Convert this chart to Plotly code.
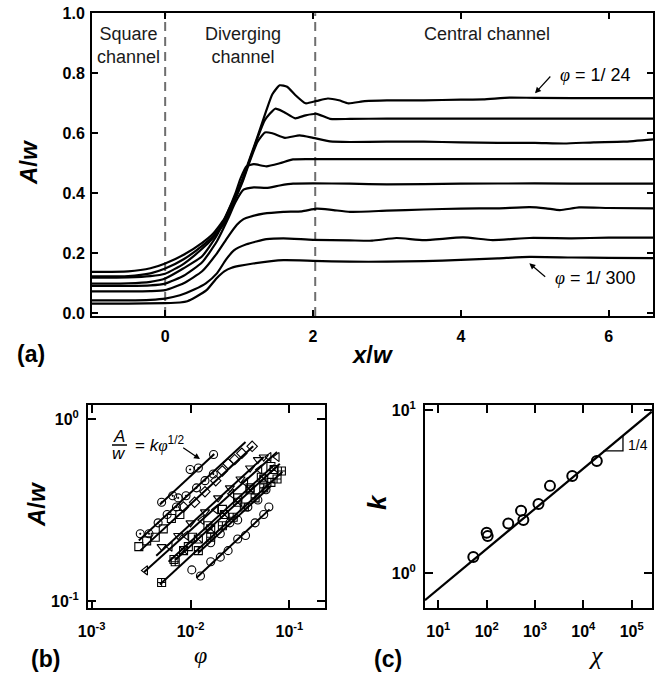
import plotly.graph_objects as go

W, H = 665, 679
FONT = "Liberation Sans, Arial, sans-serif"

# ---------------- panel (a) data ----------------
c1_x = [-1, -0.5, -0.2, 0, 0.25, 0.5, 0.65, 0.8, 0.92, 1.05, 1.15, 1.25, 1.37, 1.45, 1.55, 1.65, 1.75, 1.9, 2.05, 2.2, 2.35, 2.48, 2.7, 3.0, 3.5, 4.0, 4.3, 4.66, 5.0, 6.0, 6.6]
c1_y = [0.138, 0.140, 0.150, 0.166, 0.195, 0.235, 0.266, 0.315, 0.376, 0.45, 0.52, 0.59, 0.677, 0.73, 0.76, 0.755, 0.73, 0.70, 0.708, 0.716, 0.71, 0.70, 0.707, 0.71, 0.71, 0.712, 0.713, 0.719, 0.718, 0.717, 0.717]
c2_x = [-1, -0.5, -0.2, 0, 0.25, 0.5, 0.65, 0.8, 0.92, 1.05, 1.15, 1.25, 1.35, 1.49, 1.6, 1.76, 1.9, 2.05, 2.23, 2.5, 3, 4, 5, 6, 6.6]
c2_y = [0.123, 0.124, 0.133, 0.149, 0.18, 0.225, 0.258, 0.307, 0.37, 0.445, 0.515, 0.585, 0.645, 0.682, 0.672, 0.65, 0.66, 0.665, 0.648, 0.648, 0.649, 0.649, 0.649, 0.649, 0.649]
c3_x = [-1, -0.5, -0.2, 0, 0.25, 0.5, 0.65, 0.8, 0.92, 1.05, 1.15, 1.25, 1.35, 1.45, 1.62, 1.82, 2.0, 2.23, 2.5, 3, 3.5, 4, 4.5, 5.0, 5.4, 5.8, 6.2, 6.6]
c3_y = [0.119, 0.12, 0.124, 0.132, 0.165, 0.215, 0.252, 0.30, 0.365, 0.44, 0.51, 0.572, 0.603, 0.60, 0.585, 0.593, 0.585, 0.573, 0.571, 0.572, 0.572, 0.57, 0.568, 0.568, 0.566, 0.57, 0.572, 0.58]
c4_x = [-1, -0.5, -0.2, 0, 0.25, 0.5, 0.7, 0.85, 0.95, 1.02, 1.1, 1.2, 1.37, 1.55, 1.73, 2.0, 3, 4, 5, 6, 6.6]
c4_y = [0.099, 0.1, 0.105, 0.116, 0.15, 0.19, 0.26, 0.34, 0.40, 0.45, 0.49, 0.497, 0.49, 0.5, 0.513, 0.514, 0.514, 0.514, 0.514, 0.514, 0.514]
c5_x = [-1, -0.5, -0.2, 0, 0.25, 0.5, 0.7, 0.85, 0.95, 1.06, 1.2, 1.37, 1.55, 1.73, 2.0, 2.5, 3, 4, 5, 6, 6.6]
c5_y = [0.091, 0.091, 0.093, 0.099, 0.125, 0.17, 0.24, 0.315, 0.37, 0.412, 0.42, 0.418, 0.426, 0.432, 0.433, 0.432, 0.43, 0.432, 0.433, 0.432, 0.432]
c6_x = [-1, -0.5, -0.2, 0, 0.25, 0.5, 0.7, 0.85, 0.97, 1.06, 1.15, 1.33, 1.6, 1.85, 2.05, 2.25, 2.5, 3, 3.5, 4, 4.5, 4.93, 5.15, 5.34, 5.6, 6, 6.6]
c6_y = [0.073, 0.073, 0.074, 0.077, 0.1, 0.14, 0.2, 0.255, 0.295, 0.314, 0.322, 0.332, 0.338, 0.34, 0.349, 0.345, 0.338, 0.342, 0.346, 0.349, 0.35, 0.354, 0.35, 0.344, 0.353, 0.351, 0.35]
c7_x = [-1, -0.5, -0.2, 0, 0.2, 0.4, 0.55, 0.7, 0.82, 0.93, 1.1, 1.37, 1.6, 2.0, 2.5, 2.8, 3.13, 3.5, 4.03, 4.43, 4.93, 5.5, 6, 6.6]
c7_y = [0.043, 0.043, 0.045, 0.049, 0.06, 0.08, 0.1, 0.133, 0.178, 0.21, 0.23, 0.247, 0.25, 0.245, 0.243, 0.242, 0.251, 0.244, 0.253, 0.244, 0.251, 0.25, 0.252, 0.252]
c8_x = [-1, -0.5, 0, 0.2, 0.3, 0.42, 0.56, 0.7, 0.8, 0.9, 1.0, 1.19, 1.6, 2.0, 2.5, 3.0, 3.5, 4.0, 4.5, 4.93, 5.5, 6, 6.6]
c8_y = [0.032, 0.032, 0.034, 0.036, 0.04, 0.055, 0.077, 0.118, 0.14, 0.152, 0.158, 0.166, 0.177, 0.175, 0.172, 0.172, 0.174, 0.178, 0.183, 0.188, 0.186, 0.185, 0.184]
curves_a = [(c1_x, c1_y), (c2_x, c2_y), (c3_x, c3_y), (c4_x, c4_y),
            (c5_x, c5_y), (c6_x, c6_y), (c7_x, c7_y), (c8_x, c8_y)]
region_bounds = [0, 2.03]
xticks_a = [0, 2, 4, 6]
xtext_a = ["0", "2", "4", "6"]
yticks_a = [0.0, 0.2, 0.4, 0.6, 0.8, 1.0]
ytext_a = ["0.0", "0.2", "0.4", "0.6", "0.8", "1.0"]

# ---------------- panel (b) data ----------------
b_series = [
    dict(sym="circle-open-dot", phi=[0.0051, 0.0066, 0.0075, 0.0099, 0.012, 0.0171],
         A=[0.35, 0.38, 0.37, 0.53, 0.54, 0.64]),
    dict(sym="circle-open-dot", phi=[0.0031, 0.0038, 0.0047, 0.0058, 0.0072, 0.009, 0.0115, 0.014, 0.017],
         A=[0.235, 0.235, 0.27, 0.30, 0.33, 0.38, 0.42, 0.46, 0.50]),
    dict(sym="square-open", phi=[0.0030, 0.0036, 0.0044, 0.0053, 0.0064, 0.0078],
         A=[0.20, 0.215, 0.225, 0.25, 0.285, 0.30]),
    dict(sym="diamond-open", phi=[0.0085, 0.011, 0.014, 0.018, 0.021, 0.024, 0.028, 0.033, 0.042],
         A=[0.33, 0.35, 0.40, 0.46, 0.52, 0.57, 0.60, 0.65, 0.71]),
    dict(sym="triangle-down-open", phi=[0.0051, 0.0075, 0.01, 0.014, 0.019, 0.025, 0.032, 0.04, 0.048, 0.055],
         A=[0.20, 0.23, 0.27, 0.31, 0.37, 0.42, 0.47, 0.54, 0.60, 0.62]),
    dict(sym="triangle-left-open", phi=[0.0035, 0.0062, 0.009, 0.013, 0.018, 0.026, 0.036, 0.05, 0.062, 0.075],
         A=[0.148, 0.20, 0.23, 0.28, 0.32, 0.39, 0.45, 0.53, 0.62, 0.62]),
    dict(sym="square-open", phi=[0.0068, 0.0095, 0.0105, 0.015, 0.021, 0.03, 0.04, 0.052, 0.065],
         A=[0.17, 0.20, 0.225, 0.26, 0.32, 0.37, 0.42, 0.48, 0.55]),
    dict(sym="square-x-open", phi=[0.0085, 0.012, 0.016, 0.022, 0.03, 0.04, 0.055, 0.07],
         A=[0.19, 0.22, 0.25, 0.30, 0.35, 0.41, 0.47, 0.53]),
    dict(sym="square-cross-open", phi=[0.0051, 0.007, 0.012, 0.016, 0.021, 0.027, 0.035, 0.045, 0.055, 0.065, 0.075, 0.083],
         A=[0.127, 0.165, 0.19, 0.225, 0.26, 0.29, 0.33, 0.37, 0.42, 0.45, 0.47, 0.52]),
    dict(sym="circle-open", phi=[0.016, 0.02, 0.025, 0.03, 0.038, 0.048, 0.058],
         A=[0.21, 0.235, 0.27, 0.28, 0.33, 0.36, 0.41]),
    dict(sym="circle-open", phi=[0.0103, 0.0126, 0.016, 0.02, 0.024, 0.03, 0.036, 0.045, 0.055, 0.062],
         A=[0.149, 0.138, 0.165, 0.175, 0.19, 0.22, 0.23, 0.27, 0.30, 0.33]),
]
b_fit_phi = [[0.0049, 0.0172], [0.0030, 0.036], [0.0031, 0.043], [0.0045, 0.055], [0.0034, 0.075],
             [0.006, 0.07], [0.007, 0.08], [0.0049, 0.085], [0.012, 0.065], [0.0115, 0.063]]
b_fit_A = [[0.34, 0.64], [0.216, 0.75], [0.19, 0.71], [0.178, 0.62], [0.145, 0.66],
           [0.165, 0.56], [0.169, 0.57], [0.124, 0.515], [0.185, 0.43], [0.135, 0.32]]
xticks_b = [0.001, 0.01, 0.1]
xtext_b = ["<b>10<sup>-3</sup></b>", "<b>10<sup>-2</sup></b>", "<b>10<sup>-1</sup></b>"]
yticks_b = [0.1, 1]
ytext_b = ["<b>10<sup>-1</sup></b>", "<b>10<sup>0</sup></b>"]

# ---------------- panel (c) data ----------------
chi = [53, 100, 105, 280, 515, 575, 1180, 2040, 5900, 19000]
k_vals = [1.26, 1.77, 1.69, 2.02, 2.42, 2.12, 2.66, 3.43, 3.94, 4.87]
fit_chi = [5.3, 2.6e5]
fit_k = [0.685, 9.75]
slope_tri_chi = [2.6e4, 6.6e4, 6.6e4]
slope_tri_k = [5.61, 5.61, 7.03]
xticks_c = [10, 100, 1000, 1e4, 1e5]
xtext_c = ["<b>10<sup>1</sup></b>", "<b>10<sup>2</sup></b>", "<b>10<sup>3</sup></b>",
           "<b>10<sup>4</sup></b>", "<b>10<sup>5</sup></b>"]
yticks_c = [1, 10]
ytext_c = ["<b>10<sup>0</sup></b>", "<b>10<sup>1</sup></b>"]

# ---------------- figure ----------------
def px(x):
    return x / W

def py(y):
    return 1 - y / H

fig = go.Figure()

for cx, cy in curves_a:
    fig.add_trace(go.Scatter(x=cx, y=cy, mode="lines", xaxis="x", yaxis="y",
                             line=dict(color="black", width=2.2, shape="spline", smoothing=0.5),
                             showlegend=False, hoverinfo="skip"))

for (fp, fa) in zip(b_fit_phi, b_fit_A):
    fig.add_trace(go.Scatter(x=fp, y=fa, mode="lines", xaxis="x2", yaxis="y2",
                             line=dict(color="black", width=2), showlegend=False))
for s in b_series:
    fig.add_trace(go.Scatter(x=s["phi"], y=s["A"], mode="markers", xaxis="x2", yaxis="y2",
                             marker=dict(symbol=s["sym"], size=8, color="black",
                                         line=dict(color="black", width=1.1)),
                             showlegend=False))

fig.add_trace(go.Scatter(x=fit_chi, y=fit_k, mode="lines", xaxis="x3", yaxis="y3",
                         line=dict(color="black", width=2.2), showlegend=False))
fig.add_trace(go.Scatter(x=slope_tri_chi, y=slope_tri_k, mode="lines", xaxis="x3", yaxis="y3",
                         line=dict(color="black", width=1.3), showlegend=False))
fig.add_trace(go.Scatter(x=chi, y=k_vals, mode="markers", xaxis="x3", yaxis="y3",
                         marker=dict(symbol="circle-open", size=10, color="black",
                                     line=dict(color="black", width=2)),
                         showlegend=False))

tickfont = dict(family=FONT, size=16, color="black")
axis_common = dict(showline=True, linewidth=2, linecolor="black", mirror="ticks",
                   ticks="inside", tickwidth=2, tickcolor="black", showgrid=False,
                   zeroline=False, tickfont=tickfont, automargin=False)

fig.update_layout(
    width=W, height=H, margin=dict(l=0, r=0, t=0, b=0, autoexpand=False),
    paper_bgcolor="white", plot_bgcolor="white", showlegend=False,
    xaxis=dict(domain=[px(92), px(653)], anchor="y", range=[-0.99, 6.6],
               tickvals=xticks_a, ticktext=["<b>%s</b>" % t for t in xtext_a],
               ticklen=6, ticklabelstandoff=5, **axis_common),
    yaxis=dict(domain=[py(316), py(13.3)], anchor="x", range=[-0.009, 1.0],
               tickvals=yticks_a, ticktext=["<b>%s</b>" % t for t in ytext_a],
               ticklen=6, ticklabelstandoff=2, **axis_common),
    xaxis2=dict(domain=[px(88), px(325)], anchor="y2", type="log", range=[-3.037, -0.64],
                tickvals=xticks_b, ticktext=xtext_b, ticklen=8, ticklabelstandoff=8, **axis_common),
    yaxis2=dict(domain=[py(608), py(405)], anchor="x2", type="log", range=[-1.036, 0.078],
                tickvals=yticks_b, ticktext=ytext_b, ticklen=8, ticklabelstandoff=4, **axis_common),
    xaxis3=dict(domain=[px(425), px(652)], anchor="y3", type="log", range=[0.725, 5.42],
                tickvals=xticks_c, ticktext=xtext_c, ticklen=8, ticklabelstandoff=8, **axis_common),
    yaxis3=dict(domain=[py(607.7), py(405)], anchor="x3", type="log", range=[-0.21, 1.03],
                tickvals=yticks_c, ticktext=ytext_c, ticklen=8, ticklabelstandoff=4, **axis_common),
)

# dashed region boundaries in (a)
for xb in region_bounds:
    fig.add_shape(type="line", xref="x", yref="y domain", x0=xb, x1=xb, y0=0, y1=1,
                  line=dict(color="#6e6e6e", width=2, dash="9px,6px"), layer="below")

ann = []
def text(x, y, t, size=17, xanchor="center", yanchor="middle", font=FONT, weight="normal",
         angle=0, color="black"):
    ann.append(dict(x=px(x), y=py(y), xref="paper", yref="paper", text=t, showarrow=False,
                    xanchor=xanchor, yanchor=yanchor, textangle=angle,
                    font=dict(family=font, size=size, color=color, weight=weight)))

# panel (a) texts
text(95, 22, "Square<br>channel", size=18, xanchor="left", yanchor="top", color="#1a1a1a")
text(203, 22, "Diverging<br>channel", size=18, xanchor="left", yanchor="top", color="#1a1a1a")
text(487, 22, "Central channel", size=18, yanchor="top", color="#1a1a1a")
phi_i = '<span style="font-family:Liberation Serif"><i>φ</i></span>'
text(558, 75, phi_i + " = 1/ 24", size=18, xanchor="left")
text(553, 278, phi_i + " = 1/ 300", size=18, xanchor="left")
text(28, 163, "<b><i>A</i>/<i>w</i></b>", size=24, angle=-90)
text(372, 354, "<b><i>x</i>/<i>w</i></b>", size=24)
text(31, 354, "<b>(a)</b>", size=23)

# panel (b) texts
text(36, 505, "<b><i>A</i>/<i>w</i></b>", size=24, angle=-90)
text(200, 655, '<span style="font-family:Liberation Serif"><i>φ</i></span>', size=24)
text(45, 659, "<b>(b)</b>", size=23)
text(119, 436, "<i>A</i>", size=17)
text(119, 453, "<i>w</i>", size=17)
text(133, 444, "= <i>k</i>" + phi_i + "<sup>1/2</sup>", size=17, xanchor="left")
fig.add_shape(type="line", xref="paper", yref="paper", x0=px(112), x1=px(127),
              y0=py(445), y1=py(445), line=dict(color="black", width=1.5))

# panel (c) texts
text(377, 502, "<b><i>k</i></b>", size=26, angle=-90)
text(595, 655, '<span style="font-family:Liberation Serif"><i>χ</i></span>', size=26)
text(388, 659, "<b>(c)</b>", size=23)
text(626, 445, "1/4", size=14, xanchor="left")

# arrows
def arrow(hx, hy, tx, ty):
    ann.append(dict(x=px(hx), y=py(hy), xref="paper", yref="paper", text="",
                    showarrow=True, ax=tx - hx, ay=ty - hy, axref="pixel", ayref="pixel",
                    arrowhead=2, arrowsize=1.0, arrowwidth=1.2, arrowcolor="black"))
arrow(535, 93.3, 551.7, 75)
arrow(529.3, 263.3, 546.7, 278)
arrow(200, 459, 181.7, 446.7)

fig.update_layout(annotations=ann)
fig.write_html("out.html")
